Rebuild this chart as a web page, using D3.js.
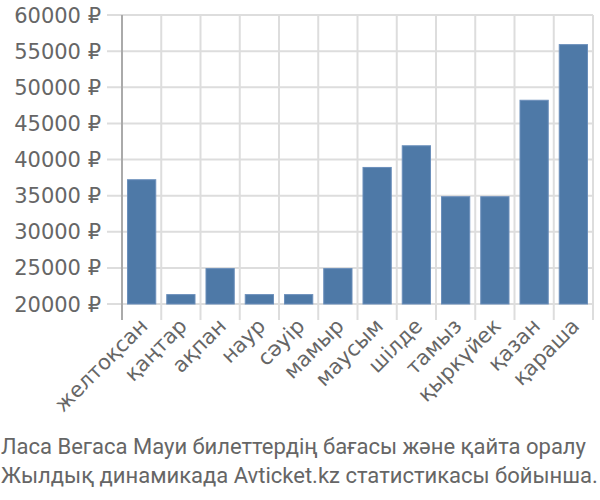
<!DOCTYPE html>
<html><head><meta charset="utf-8">
<script src="https://cdn.jsdelivr.net/npm/d3@7"></script>
<style>body{margin:0;background:#fff}svg{display:block}</style>
</head><body>
<svg id="c" width="600" height="500"></svg>
<script>
const categories = ["желтоқсан","қаңтар","ақпан","наур","сәуір","мамыр","маусым","шілде","тамыз","қыркүйек","қазан","қараша"];
const prices = [37200,21300,24900,21300,21300,24900,38900,41900,34850,34850,48200,55900];
const yTicks = [20000,25000,30000,35000,40000,45000,50000,55000,60000];
const titleLines = ["Ласа Вегаса Мауи билеттердің бағасы және қайта оралу","Жылдық динамикада Avticket.kz статистикасы бойынша."];

(function(){
const svg = d3.select("#c");
const font = "'DejaVu Sans', sans-serif";
const tfont = "Roboto, sans-serif";
const pL = 122, pR = 593, pT = 15, pB = 304;
const x = d3.scaleBand().domain(categories).range([pL, pR]).paddingInner(0.28).paddingOuter(0.14);
const y = d3.scaleLinear().domain([20000, 60000]).range([pB, pT]);
const step = (pR - pL) / categories.length;

svg.append("g").selectAll("line").data(yTicks).join("line")
  .attr("x1", pL - 15).attr("x2", pR).attr("y1", d => y(d)).attr("y2", d => y(d))
  .attr("stroke", "#ddd").attr("stroke-width", 2);
svg.append("g").selectAll("line").data(d3.range(categories.length + 1)).join("line")
  .attr("x1", i => pL + i * step).attr("x2", i => pL + i * step)
  .attr("y1", pT).attr("y2", pB + 16)
  .attr("stroke", "#ddd").attr("stroke-width", 2);
svg.append("line").attr("x1", pL).attr("x2", pL).attr("y1", pT).attr("y2", pB + 16)
  .attr("stroke", "#aaa").attr("stroke-width", 2);

svg.append("g").selectAll("rect").data(prices).join("rect")
  .attr("x", (d, i) => x(categories[i]))
  .attr("width", x.bandwidth())
  .attr("y", d => y(d))
  .attr("height", d => y(20000) - y(d))
  .attr("fill", "#4e79a7").attr("stroke", "#6b8fbb").attr("stroke-width", 1);

svg.append("g").selectAll("text").data(yTicks).join("text")
  .attr("x", pL - 21).attr("y", d => y(d)).attr("dy", "0.36em")
  .attr("text-anchor", "end").attr("font-family", font).attr("font-size", 21)
  .attr("fill", "#666").text(d => d + " ₽");

svg.append("g").selectAll("text").data(categories).join("text")
  .attr("transform", d => `translate(${x(d) + x.bandwidth() / 2 + 2},${pB + 18}) rotate(-45)`)
  .attr("text-anchor", "end").attr("dy", "0.36em")
  .attr("font-family", font).attr("font-size", 21).attr("fill", "#666").text(d => d);

svg.append("g").selectAll("text").data(titleLines).join("text")
  .attr("x", 1).attr("y", (d, i) => 454 + i * 29)
  .attr("font-family", tfont).attr("font-size", 22).attr("fill", "#666").text(d => d);
})();
</script>
</body></html>
